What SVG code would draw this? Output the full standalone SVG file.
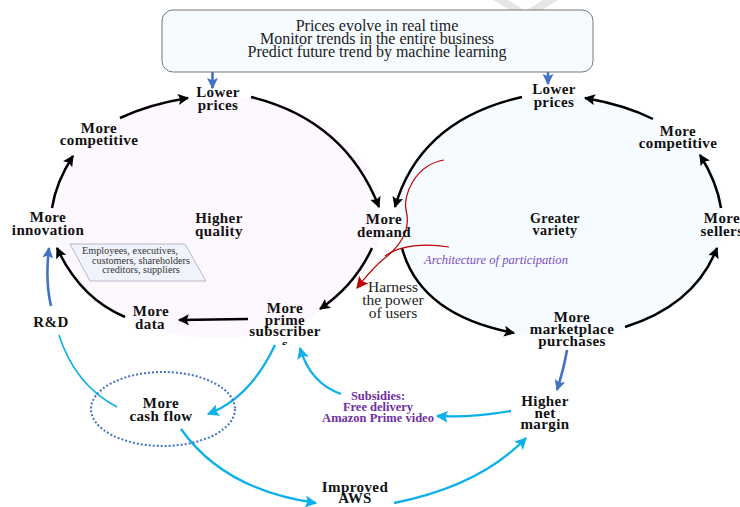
<svg xmlns="http://www.w3.org/2000/svg" width="740" height="507" viewBox="0 0 740 507">
<defs>
<style>
text{font-family:"Liberation Serif","Times New Roman",serif;text-anchor:middle}
.n{font-weight:700;font-size:15px;letter-spacing:.4px;fill:#111}
.k{fill:none;stroke:#000;stroke-width:2.5}
.c{fill:none;stroke:#0db0ea;stroke-width:2.3}
.t{fill:none;stroke:#0db0ea;stroke-width:1.6}
.b{fill:none;stroke:#4472c4;stroke-width:2.6}
.r{fill:none;stroke:#c00000;stroke-width:1.2}
.p{font-weight:700;font-size:12.5px;fill:#7030a0}
</style>
<marker id="mk" viewBox="0 0 10 10" refX="9" refY="5" markerWidth="11" markerHeight="11" markerUnits="userSpaceOnUse" orient="auto"><path d="M0 0L10 5L0 10L2 5Z" fill="#000"/></marker>
<marker id="mc" viewBox="0 0 10 10" refX="9" refY="5" markerWidth="12" markerHeight="12" markerUnits="userSpaceOnUse" orient="auto"><path d="M0 0L10 5L0 10L2 5Z" fill="#0db0ea"/></marker>
<marker id="mb" viewBox="0 0 10 10" refX="9" refY="5" markerWidth="11" markerHeight="11" markerUnits="userSpaceOnUse" orient="auto"><path d="M0 0L10 5L0 10L2 5Z" fill="#4472c4"/></marker>
<marker id="mr" viewBox="0 0 10 10" refX="9" refY="5" markerWidth="12" markerHeight="12" markerUnits="userSpaceOnUse" orient="auto"><path d="M0 0L10 5L0 10L2 5Z" fill="#c00000"/></marker>
<clipPath id="sclip"><rect x="270" y="341" width="30" height="4"/></clipPath>
</defs>
<rect width="740" height="507" fill="#fff"/>
<path d="M493 0L508 0L524 10L510 10ZM543 0L558 0L542 10L527 10Z" fill="#e6e6e6"/>
<g id="backgrounds">
<ellipse cx="217" cy="217" rx="165" ry="121" fill="#fdf7fe"/>
<ellipse cx="560" cy="217" rx="165" ry="121" fill="#f6fbff"/>
</g>
<g id="connectors">
<path class="k" d="M120 118Q150 104 188 98" marker-end="url(#mk)"/>
<path class="k" d="M52 208Q56 182 73 156" marker-end="url(#mk)"/>
<path class="k" d="M251 97Q345 120 379 207" marker-end="url(#mk)"/>
<path class="k" d="M522 97Q420 120 395 207" marker-end="url(#mk)"/>
<path class="k" d="M653 119Q625 105 585 98" marker-end="url(#mk)"/>
<path class="k" d="M721 208Q717 182 700 155" marker-end="url(#mk)"/>
<path class="k" d="M372 248Q355 285 320 309" marker-end="url(#mk)"/>
<path class="k" d="M248 319L179 320" marker-end="url(#mk)"/>
<path class="k" d="M125 317Q80 298 57 248" marker-end="url(#mk)"/>
<path class="k" d="M402 248Q420 315 514 333" marker-end="url(#mk)"/>
<path class="k" d="M625 327Q695 305 717 248" marker-end="url(#mk)"/>
<path class="b" d="M212.500 68V88" marker-end="url(#mb)"/>
<path class="b" d="M548 64V84" marker-end="url(#mb)"/>
<path class="b" d="M51 306Q45 280 49 248" marker-end="url(#mb)"/>
<path class="b" d="M567 350Q564 368 557 390" marker-end="url(#mb)"/>
<path class="t" d="M59 335Q75 385 117 407"/>
<path class="c" d="M275 345Q250 398 208 414" marker-end="url(#mc)"/>
<path class="c" d="M341 394Q310 383 300 348" marker-end="url(#mc)"/>
<path class="c" d="M511 411Q470 418 437 416" marker-end="url(#mc)"/>
<path class="c" d="M181 429Q224 490 316 503" marker-end="url(#mc)"/>
<path class="c" d="M394 503Q480 486 526 438" marker-end="url(#mc)"/>
<path class="r" d="M444 160C415 165 403 195 406 210C410 225 405 242 385 258C372 268 365 278 357 288" marker-end="url(#mr)"/>
<path class="r" d="M449 247C425 243 400 245 385 256"/>
</g>
<g id="top-box">
<rect x="162" y="10" width="431" height="62" rx="11" fill="#f6fbff" stroke="#777" stroke-width="1"/>
<text x="377" y="31" font-size="16" fill="#222">Prices evolve in real time</text>
<text x="377" y="44" font-size="16" fill="#222">Monitor trends in the entire business</text>
<text x="377" y="57" font-size="16" fill="#222">Predict future trend by machine learning</text>
</g>
<g id="cash-ellipse"><ellipse cx="163" cy="409" rx="72" ry="37" fill="none" stroke="#4472c4" stroke-width="2" stroke-dasharray="2 2"/></g>
<g id="stakeholders">
<path d="M70 244H185L206 281H90Z" fill="#f1f3fc" stroke="#b5b9c6" stroke-width="1"/>
<text x="130" y="254" font-size="10.2" fill="#333">Employees, executives,</text>
<text x="141" y="263.500" font-size="10.2" fill="#333">customers, shareholders</text>
<text x="141" y="272.500" font-size="10.2" fill="#333">creditors, suppliers</text>
</g>
<g id="lower-prices-l"><text class="n" x="218" y="97">Lower</text><text class="n" x="218" y="110">prices</text></g>
<g id="more-competitive-l"><text class="n" x="99" y="133">More</text><text class="n" x="99" y="145">competitive</text></g>
<g id="more-innovation"><text class="n" x="48" y="222">More</text><text class="n" x="48" y="235">innovation</text></g>
<g id="higher-quality"><text class="n" x="219" y="223">Higher</text><text class="n" x="219" y="236">quality</text></g>
<g id="more-demand"><text class="n" x="384" y="224">More</text><text class="n" x="384" y="237">demand</text></g>
<g id="more-data"><text class="n" x="151" y="316">More</text><text class="n" x="150" y="329">data</text></g>
<g id="more-prime"><text class="n" x="285" y="313">More</text><text class="n" x="285" y="324.500">prime</text><text class="n" x="285" y="336">subscriber</text><text class="n" x="285" y="349" clip-path="url(#sclip)">s</text></g>
<g id="rd"><text class="n" x="51" y="327">R&amp;D</text></g>
<g id="cash-flow"><text class="n" x="161" y="408">More</text><text class="n" x="161" y="421">cash flow</text></g>
<g id="aws"><text class="n" x="355" y="491.500">Improved</text><text class="n" x="355" y="503">AWS</text></g>
<g id="harness"><text x="393" y="292" font-size="15.500" fill="#222">Harness</text><text x="393" y="305" font-size="15.500" fill="#222">the power</text><text x="393" y="318" font-size="15.500" fill="#222">of users</text></g>
<g id="architecture"><text x="496" y="264" font-size="12.600" font-style="italic" fill="#7a4fc0">Architecture of participation</text></g>
<g id="lower-prices-r"><text class="n" x="554" y="94">Lower</text><text class="n" x="554" y="107">prices</text></g>
<g id="more-competitive-r"><text class="n" x="678" y="136">More</text><text class="n" x="678" y="148">competitive</text></g>
<g id="more-sellers"><text class="n" x="722" y="223">More</text><text class="n" x="722" y="236">sellers</text></g>
<g id="greater-variety"><text class="n" x="555" y="223" style="font-size:14px">Greater</text><text class="n" x="555" y="234.500" style="font-size:14px">variety</text></g>
<g id="marketplace"><text class="n" x="572" y="322">More</text><text class="n" x="572" y="333.500">marketplace</text><text class="n" x="572" y="345.500">purchases</text></g>
<g id="net-margin"><text class="n" x="545" y="406">Higher</text><text class="n" x="545" y="417.500">net</text><text class="n" x="545" y="429">margin</text></g>
<g id="subsidies"><text class="p" x="378" y="400">Subsidies:</text><text class="p" x="378" y="410.800">Free delivery</text><text class="p" x="378" y="421.800">Amazon Prime video</text></g>
</svg>
